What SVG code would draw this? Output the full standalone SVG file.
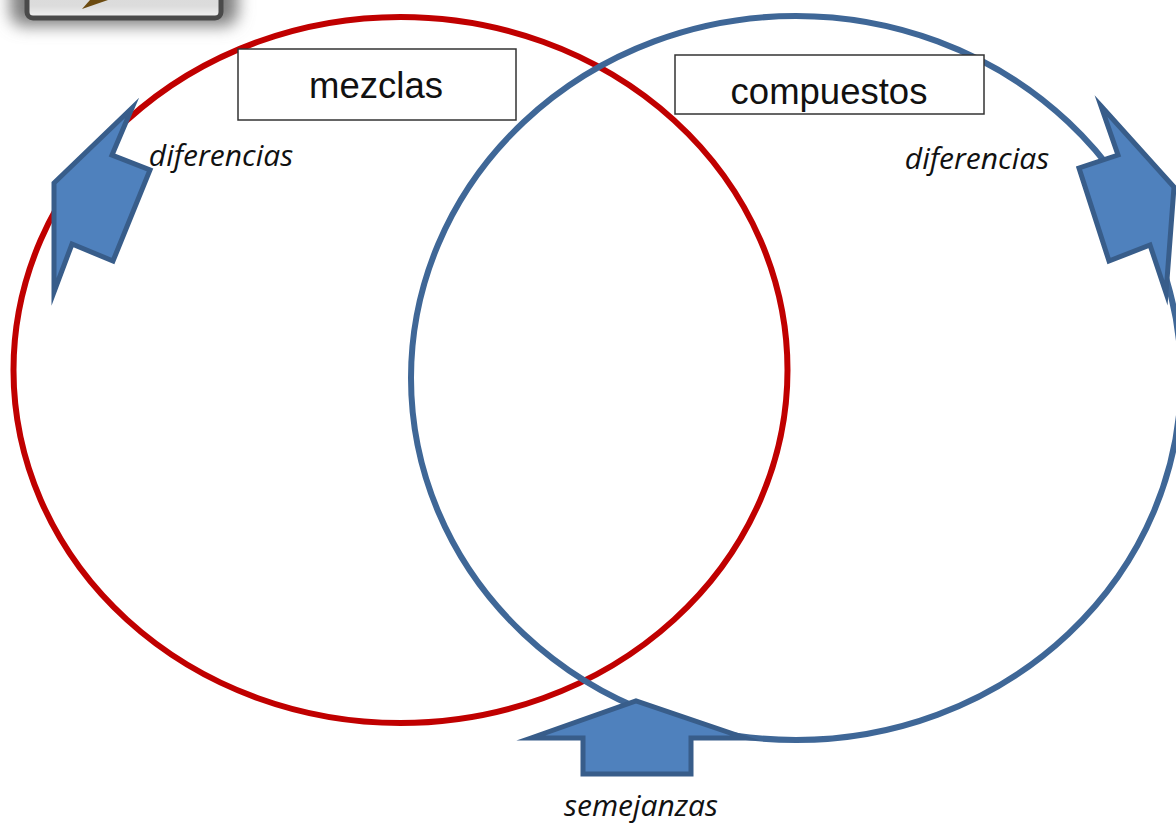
<svg xmlns="http://www.w3.org/2000/svg" width="1176" height="824" viewBox="0 0 1176 824">
<style>
.ring{fill:none;stroke-width:6}
.arrow{fill:#4f81bd;stroke:#385d8a;stroke-width:5;stroke-linejoin:miter;stroke-miterlimit:12}
.box{fill:#fff;stroke:#333;stroke-width:1.5}
.title{font-family:"Liberation Sans",Arial,sans-serif;font-size:36.500px;fill:#111;text-anchor:middle}
.note{font-family:"Open Sans","Noto Sans",sans-serif;font-style:italic;font-size:30px;fill:#111;text-anchor:middle}
</style>
<defs>
<filter id="soft" x="-20%" y="-100%" width="140%" height="300%"><feGaussianBlur stdDeviation="8"/></filter>
<linearGradient id="panel" x1="0" y1="0" x2="0" y2="1"><stop offset="0" stop-color="#d8d8d8"/><stop offset="0.75" stop-color="#dcdcdc"/><stop offset="1" stop-color="#f4f4f4"/></linearGradient>
</defs>
<rect width="1176" height="824" fill="#fff"/>
<g id="corner-panel">
<rect x="10" y="-30" width="228" height="56" rx="14" fill="#808080" filter="url(#soft)"/>
<rect x="27" y="-30" width="194" height="48" rx="6" fill="url(#panel)" stroke="#4a4a4a" stroke-width="5"/>
<path d="M82 9L108 0H90Z" fill="#6b4a10"/>
</g>
<g id="connectors">
<ellipse id="red-circle" class="ring" cx="400.500" cy="370" rx="387" ry="353" stroke="#c00000"/>
<ellipse id="blue-circle" class="ring" cx="796" cy="378" rx="385" ry="362" stroke="#3f6797"/>
</g>
<g id="node-mezclas"><rect class="box" x="238" y="49" width="278" height="71"/><text class="title" x="376" y="98">mezclas</text></g>
<g id="node-compuestos"><rect class="box" x="675" y="55" width="309" height="59"/><text class="title" x="829" y="104">compuestos</text></g>
<g id="arrow-left"><path class="arrow" d="M132 108L54 183L54 292L72 244L113 261L150 170L112 155Z"/></g>
<g id="arrow-right"><path class="arrow" d="M1101 106L1174 187L1166 293L1150 245L1109 261L1079 168L1118 155Z"/></g>
<g id="arrow-bottom"><path class="arrow" d="M531 738L636 701L745 738H691V774H583V738Z"/></g>
<g id="label-dif-left"><text class="note" x="221" y="166">diferencias</text></g>
<g id="label-dif-right"><text class="note" x="977" y="169">diferencias</text></g>
<g id="label-semejanzas"><text class="note" x="641" y="816">semejanzas</text></g>
</svg>
